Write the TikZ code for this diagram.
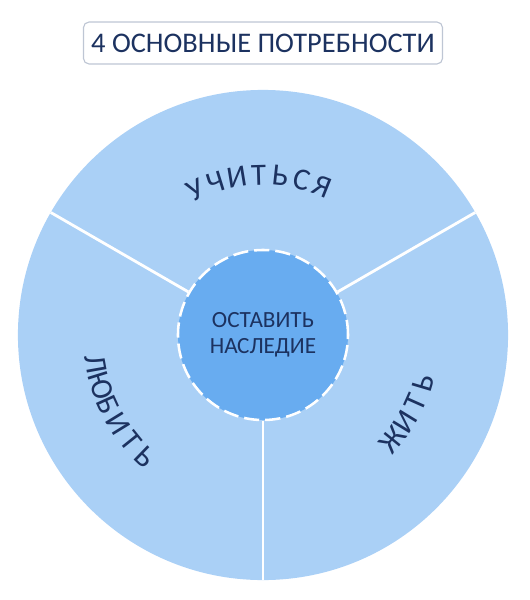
\documentclass[tikz,border=0pt]{standalone}
\usepackage{fontspec}
\setmainfont{Carlito}
\usetikzlibrary{positioning}
\definecolor{ringblue}{RGB}{170,208,246}
\definecolor{coreblue}{RGB}{104,172,240}
\definecolor{inkblue}{RGB}{28,50,96}
\definecolor{framegray}{RGB}{190,198,212}

\begin{document}
\begin{tikzpicture}[x=0.025cm, y=0.025cm,
    letter/.style={inner sep=0pt, text=inkblue, font=\fontsize{22}{22}\selectfont},
    spoke/.style={white, line width=2pt}]
  \useasboundingbox (-263,-265) rectangle (266,335);

  % title
  \node (title) [draw=framegray, line width=0.8pt, rounded corners=4pt, fill=white,
    minimum width=8.975cm, minimum height=1.05cm, text=inkblue,
    font=\fontsize{20.2}{20.2}\selectfont] at (0,292) {4 ОСНОВНЫЕ ПОТРЕБНОСТИ};

  % wheel
  \node (ring) [circle, fill=ringblue, minimum size=12.25cm, inner sep=0pt, outer sep=0pt] at (0,0) {};
  \node (core) [circle, fill=coreblue, draw=white, line width=1.8pt,
    dash pattern=on 0.38cm off 0.15cm, minimum size=4.25cm, inner sep=0pt,
    align=center, text=inkblue, font=\fontsize{16.5}{18.5}\selectfont]
    at (ring.center) {ОСТАВИТЬ\\НАСЛЕДИЕ};
  \foreach \a in {30,150,270}
    \draw[spoke] (core.\a) -- (ring.\a);

  % labels on the ring
  \foreach \ch [count=\i] in {У,Ч,И,Т,Ь,С,Я}
    \node (learn\i) [letter, rotate={115-(\i-1)*7.8-90}] at ({115-(\i-1)*7.8}:160) {\ch};
  \foreach \ch [count=\i] in {Л,Ю,Б,И,Т,Ь}
    \node (love\i) [letter, rotate={190+(\i-1)*7.2+90}] at ({190+(\i-1)*7.2}:170) {\ch};
  \foreach \ch [count=\i] in {Ж,И,Т,Ь}
    \node (live\i) [letter, rotate={-39+(\i-1)*7.5+90}] at ({-39+(\i-1)*7.5}:167) {\ch};
\end{tikzpicture}
\end{document}
